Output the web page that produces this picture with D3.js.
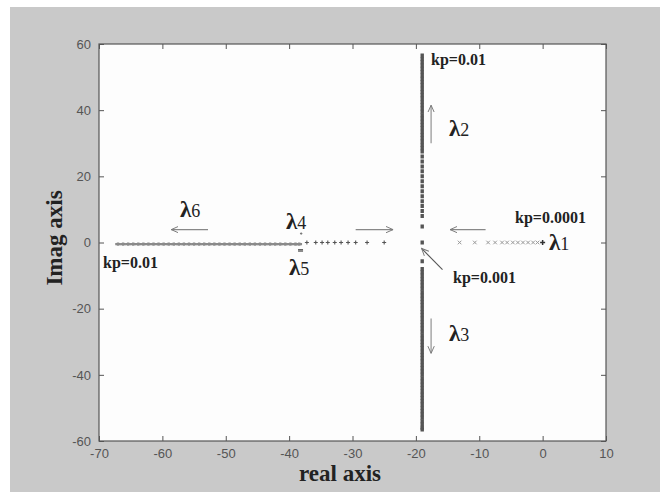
<!DOCTYPE html>
<html><head><meta charset="utf-8">
<script src="https://cdn.jsdelivr.net/npm/d3@7"></script>
<style>body{margin:0;background:#fff}</style>
</head><body>
<script>
// ---- data ----
const xTicks = [-70,-60,-50,-40,-30,-20,-10,0,10];
const yTicks = [-60,-40,-20,0,20,40,60];
const xTickLabels = ["-70","-60","-50","-40","-30","-20","-10","0","10"];
const yTickLabels = ["-60","-40","-20","0","20","40","60"];

// lambda6 : real branch going left (kp increasing to 0.01)
const lambda6Re = [-67,-66.2,-65.4,-64.6,-63.8,-63,-62.2,-61.4,-60.6,-59.8,-59,-58.2,-57.4,-56.6,-55.8,-55,-54.2,-53.4,-52.6,-51.8,-51,-50.2,-49.4,-48.6,-47.8,-47,-46.2,-45.4,-44.6,-43.8,-43,-42.2,-41.4,-40.6,-39.8,-39,-38.4];
// lambda4 / lambda5 : real branch to the right of -38
const lambda4Re = [-37.2,-35.8,-34.8,-33.9,-32.8,-31.8,-30.7,-29.5,-27.7,-25.0];
const lambda4Im = [2.7];
const lambda5Im = [-2.2,-2.6];
// lambda1 : real branch from 0 going left
const lambda1Re = [-13.1,-10.7,-8.6,-7.5,-6.4,-5.6,-4.7,-3.9,-3.1,-2.3,-1.5,-0.8,0];
// lambda2 / lambda3 : vertical branch at real = -19
const branchRe = -19;
const lambda2Im = [56.5,55.5,54.5,53.5,52.5,51.5,50.5,49.5,48.5,47.5,46.5,45.5,44.5,43.5,42.5,41.5,40.5,39.5,38.5,37.5,36.5,35.5,34.5,33.5,32.5,31.5,30.5,29.5,28.5,27.5,26,24.5,23,21.5,20,18.5,17,15.5,14,12.5,11,9.5,8,4.8,0];
const lambda3Im = [-5.7,-8,-9,-10,-11,-12,-13,-14,-15,-16,-17,-18,-19,-20,-21,-22,-23,-24,-25,-26,-27,-28,-29,-30,-31,-32,-33,-34,-35,-36,-37,-38,-39,-40,-41,-42,-43,-44,-45,-46,-47,-48,-49,-50,-51,-52,-53,-54,-55,-56,-56.5];

// ---- drawing ----
const W = 669, H = 494;
const svg = d3.select("body").append("svg").attr("width", W).attr("height", H);
svg.append("rect").attr("x",10).attr("y",7).attr("width",650).attr("height",485).attr("fill","#c9c9c9");

const x = d3.scaleLinear().domain([-70,10]).range([99,606]);
const y = d3.scaleLinear().domain([-60,60]).range([441,44]);

svg.append("rect").attr("x",x(-70)).attr("y",y(60)).attr("width",x(10)-x(-70)).attr("height",y(-60)-y(60)).attr("fill","#fdfdfd");

function styleAxis(g){
  g.selectAll(".domain").remove();
  g.selectAll(".tick line").attr("stroke","#555");
  g.selectAll(".tick text").attr("fill","#555").style("font-family","Liberation Sans Narrow, Liberation Sans, Arial, sans-serif").style("font-size","13px");
}
const xb = svg.append("g").attr("transform",`translate(0,${y(-60)})`)
  .call(d3.axisBottom(x).tickValues(xTicks).tickFormat((d,i)=>xTickLabels[i]).tickSizeInner(-5).tickSizeOuter(0).tickPadding(8));
styleAxis(xb);
const xt = svg.append("g").attr("transform",`translate(0,${y(60)})`)
  .call(d3.axisTop(x).tickValues(xTicks).tickFormat("").tickSizeInner(-5).tickSizeOuter(0));
styleAxis(xt);
const yl = svg.append("g").attr("transform",`translate(${x(-70)},0)`)
  .call(d3.axisLeft(y).tickValues(yTicks).tickFormat((d,i)=>yTickLabels[i]).tickSizeInner(-5).tickSizeOuter(0).tickPadding(8));
styleAxis(yl);
const yr = svg.append("g").attr("transform",`translate(${x(10)},0)`)
  .call(d3.axisRight(y).tickValues(yTicks).tickFormat("").tickSizeInner(-5).tickSizeOuter(0));
styleAxis(yr);

svg.append("rect").attr("x",x(-70)).attr("y",y(60)).attr("width",x(10)-x(-70)).attr("height",y(-60)-y(60))
  .attr("fill","none").attr("stroke","#555").attr("stroke-width",1.2);

// markers
function plus(pts, sx, sy, color, w){
  svg.append("g").selectAll("path").data(pts).join("path")
    .attr("d", d => `M${x(d[0])-sx},${y(d[1])}H${x(d[0])+sx}M${x(d[0])},${y(d[1])-sy}V${y(d[1])+sy}`)
    .attr("stroke", color).attr("stroke-width", w).attr("fill","none");
}
function cross(pts, s, color, w){
  svg.append("g").selectAll("path").data(pts).join("path")
    .attr("d", d => `M${x(d[0])-s},${y(d[1])-s}L${x(d[0])+s},${y(d[1])+s}M${x(d[0])-s},${y(d[1])+s}L${x(d[0])+s},${y(d[1])-s}`)
    .attr("stroke", color).attr("stroke-width", w).attr("fill","none");
}
plus(lambda6Re.map(r=>[r,-0.5]), 2.8, 1.6, "#8a8a8a", 2.4);
plus(lambda4Re.map(r=>[r,0]), 2, 2, "#555", 1.1);
plus(lambda4Im.map(i=>[-38.1,i]), 1.2, 1.2, "#777", 1);
plus(lambda5Im.map(i=>[-38.2,i]), 2.5, 0.5, "#666", 1.4);
cross(lambda1Re.slice(0,-1).map(r=>[r,0]), 1.8, "#999", 1);
plus([[lambda1Re[lambda1Re.length-1],0]], 2.5, 2.5, "#333", 1.5);
plus(lambda2Im.map(i=>[branchRe,i]), 1.2, 2, "#555", 3.4);
plus(lambda3Im.map(i=>[branchRe,i]), 1.2, 2, "#555", 3.4);

// arrows
const defs = svg.append("defs");
defs.append("marker").attr("id","ah").attr("viewBox","0 0 10 10").attr("refX",9).attr("refY",5)
  .attr("markerWidth",8).attr("markerHeight",8).attr("orient","auto").attr("markerUnits","userSpaceOnUse")
  .append("path").attr("d","M0,1L9,5L0,9").attr("fill","none").attr("stroke","#777").attr("stroke-width",1.2);
function arrow(x1,y1,x2,y2,col){
  svg.append("line").attr("x1",x(x1)).attr("y1",y(y1)).attr("x2",x(x2)).attr("y2",y(y2))
    .attr("stroke",col||"#888").attr("stroke-width",1.1).attr("marker-end","url(#ah)");
}
arrow(-17.6,30,-17.6,41.5);
arrow(-17.6,-23,-17.6,-33.5);
arrow(-52.8,3.9,-58.6,3.9);
arrow(-29.5,3.9,-23.6,3.9);
arrow(-9,3.9,-14.6,3.9);
arrow(-15.8,-8.2,-19.1,-1.8, "#555");

// labels
const serif = "Liberation Serif, Times New Roman, serif";
function txt(t, xp, yp, size, anchor){
  return svg.append("text").attr("x",xp).attr("y",yp).attr("font-family",serif).attr("font-weight","bold")
    .attr("font-size",size).attr("fill","#222").attr("text-anchor",anchor||"start").text(t);
}
txt("kp=0.01", 431, 65, 16);
txt("kp=0.01", 103, 268, 16);
txt("kp=0.0001", 515, 223, 16);
txt("kp=0.001", 453, 283, 16);
function lam(sub, xp, yp){
  const t = svg.append("text").attr("x",xp).attr("y",yp).attr("font-family",serif).attr("font-weight","bold")
    .attr("font-size",23).attr("fill","#222");
  t.append("tspan").text("λ");
  t.append("tspan").attr("font-size",18).attr("font-weight","normal").text(sub);
}
lam("2", 449, 136);
lam("3", 449, 341);
lam("1", 549, 250);
lam("4", 286, 229);
lam("5", 289, 275);
lam("6", 180, 217);

svg.append("text").attr("x",340).attr("y",481).attr("text-anchor","middle").attr("font-family",serif)
  .attr("font-weight","bold").attr("font-size",23).attr("fill","#222").text("real axis");
svg.append("text").attr("transform","translate(62,238) rotate(-90)").attr("text-anchor","middle").attr("font-family",serif)
  .attr("font-weight","bold").attr("font-size",23).attr("fill","#222").text("Imag axis");
</script>
</body></html>
